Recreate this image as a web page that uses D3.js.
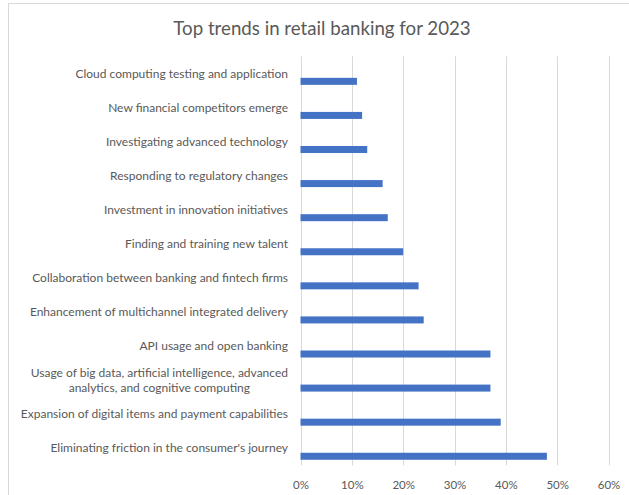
<!DOCTYPE html>
<html>
<head>
<meta charset="utf-8">
<script src="https://cdn.jsdelivr.net/npm/d3@7"></script>
<style>
  html, body { margin: 0; padding: 0; background: #fff; }
  svg { display: block; }
  text { font-family: Lato, "Open Sans", sans-serif; }
</style>
</head>
<body>
<script>
// Survey results: share of respondents naming each retail-banking trend
const categories = [
  "Eliminating friction in the consumer's journey",
  "Expansion of digital items and payment capabilities",
  "Usage of big data, artificial intelligence, advanced\nanalytics, and cognitive computing",
  "API usage and open banking",
  "Enhancement of multichannel integrated delivery",
  "Collaboration between banking and fintech firms",
  "Finding and training new talent",
  "Investment in innovation initiatives",
  "Responding to regulatory changes",
  "Investigating advanced technology",
  "New financial competitors emerge",
  "Cloud computing testing and application"
];
const values = [0.48, 0.39, 0.37, 0.37, 0.24, 0.23, 0.20, 0.17, 0.16, 0.13, 0.12, 0.11];
const xTicks = [0, 0.1, 0.2, 0.3, 0.4, 0.5, 0.6];
const title = "Top trends in retail banking for 2023";

const W = 629, H = 495;
const plot = { left: 300.5, right: 608.5, top: 56.3, bottom: 465.3 };

const svg = d3.select("body").append("svg")
  .attr("width", W).attr("height", H);

// chart frame
svg.append("rect")
  .attr("x", 8.5).attr("y", 3.5)
  .attr("width", W + 10).attr("height", H + 10)
  .attr("fill", "#fff").attr("stroke", "#d9d9d9").attr("stroke-width", 1);

svg.append("text")
  .attr("x", 322).attr("y", 35)
  .attr("text-anchor", "middle")
  .attr("fill", "#595959")
  .style("font-size", "18.7px")
  .text(title);

const x = d3.scaleLinear().domain([0, 0.6]).range([plot.left, plot.right]);
// top of list at the top of the plot
const y = d3.scaleBand().domain(categories.slice().reverse())
  .range([plot.top, plot.bottom]);

// vertical gridlines
svg.append("g").selectAll("line").data(xTicks).join("line")
  .attr("x1", d => Math.round(x(d)) + 0.5).attr("x2", d => Math.round(x(d)) + 0.5)
  .attr("y1", plot.top).attr("y2", plot.bottom)
  .attr("stroke", "#d9d9d9").attr("stroke-width", 1);

// x tick labels
const xAxis = d3.axisBottom(x).tickValues(xTicks).tickFormat(d3.format(".0%")).tickSize(0).tickPadding(0);
const gx = svg.append("g").attr("transform", `translate(0, ${plot.bottom + 16})`).call(xAxis);
gx.select(".domain").remove();
gx.selectAll("text")
  .attr("fill", "#595959")
  .style("font-family", "Lato, sans-serif")
  .style("font-size", "11.5px");

// bars sit in the lower half of each band, like a two-series cluster
const barH = 7;
const barOffset = 4.5;
svg.append("g").selectAll("rect").data(categories).join("rect")
  .attr("x", x(0))
  .attr("y", d => y(d) + y.bandwidth() / 2 + barOffset)
  .attr("width", (d, i) => x(values[i]) - x(0))
  .attr("height", barH)
  .attr("fill", "#4472c4");

// category labels, right-aligned, multi-line centred on the band
const labelX = 288;
const lineH = 14.5;
const lab = svg.append("g").selectAll("text").data(categories).join("text")
  .attr("fill", "#595959")
  .style("font-size", "12px");
lab.each(function(d) {
  const lines = d.split("\n");
  const t = d3.select(this);
  const cy = y(d) + y.bandwidth() / 2;
  if (lines.length === 1) {
    t.attr("x", labelX).attr("y", cy).attr("dy", "0.35em").attr("text-anchor", "end").text(d);
  } else {
    // measure the widest line so the centred block stays right-aligned
    t.attr("text-anchor", "middle");
    const spans = lines.map((ln, k) => t.append("tspan")
      .attr("y", cy + (k - (lines.length - 1) / 2) * lineH)
      .attr("dy", "0.35em").text(ln));
    const widest = d3.max(spans, s => s.node().getComputedTextLength());
    spans.forEach(s => s.attr("x", labelX - widest / 2));
  }
});
</script>
</body>
</html>
